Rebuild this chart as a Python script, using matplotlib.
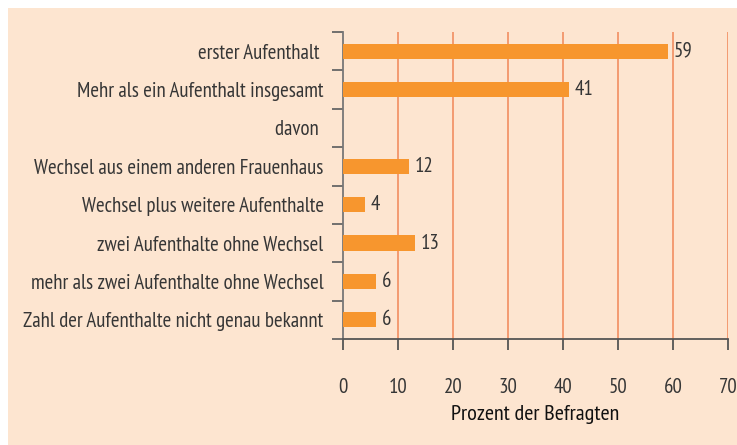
import matplotlib.pyplot as plt
import numpy as np
from matplotlib import font_manager
from matplotlib.patches import Rectangle

# pick a condensed face if one is installed
installed = set(f.name for f in font_manager.fontManager.ttflist)
wanted = ['Liberation Sans Narrow', 'PT Sans Narrow', 'Roboto Condensed',
          'Open Sans Condensed', 'Archivo Narrow', 'Fira Sans Condensed']
face = [f for f in wanted if f in installed][:1]
plt.rcParams['font.family'] = face + ['DejaVu Sans']

categories = ['erster Aufenthalt ', 'Mehr als ein Aufenthalt insgesamt', 'davon ',
              'Wechsel aus einem anderen Frauenhaus', 'Wechsel plus weitere Aufenthalte',
              'zwei Aufenthalte ohne Wechsel', 'mehr als zwei Aufenthalte ohne Wechsel',
              'Zahl der Aufenthalte nicht genau bekannt']
values = [59, 41, None, 12, 4, 13, 6, 6]
xticks = [0, 10, 20, 30, 40, 50, 60, 70]

bg = '#fde5d0'
bar_col = '#f7962e'
grid_col = '#f3956a'
txt = '#363636'

fig = plt.figure(figsize=(7.37, 4.45), dpi=100, facecolor='white')
fig.add_artist(Rectangle((8/737, 0), 1, 1 - 8/445, transform=fig.transFigure,
                         facecolor=bg, edgecolor='none', zorder=-10))
ax = fig.add_axes([343/737, 1 - 339/445, 385/737, 307/445])
ax.set_facecolor(bg)

y = np.arange(len(categories))
for i, v in enumerate(values):
    if v is None:
        continue
    ax.barh(y[i], v, height=0.4, color=bar_col, zorder=3)
    ax.text(v + 1.1, y[i], str(v), va='center', ha='left', fontsize=15, color=txt)

ax.set_xlim(0, 70)
ax.set_ylim(len(categories) - 0.5, -0.5)
ax.set_xticks(xticks)
ax.set_xticklabels([str(t) for t in xticks], fontsize=15, color=txt)
for t in xticks[1:]:
    ax.axvline(t, color=grid_col, lw=1.3, zorder=1)

ax.set_yticks(y)
ax.set_yticklabels(categories, fontsize=15, color=txt)
ax.set_yticks(np.arange(-0.5, len(categories), 1), minor=True)
ax.tick_params(axis='y', which='major', length=0, pad=14)
ax.tick_params(axis='y', which='minor', length=8, color='#666666', width=1.3)
ax.tick_params(axis='x', length=8, color='#555555', width=1.3, pad=20)

for s in ['top', 'right']:
    ax.spines[s].set_visible(False)
ax.spines['left'].set_color('#777777')
ax.spines['left'].set_linewidth(1.3)
ax.spines['bottom'].set_color('#555555')
ax.spines['bottom'].set_linewidth(1.3)

ax.set_xlabel('Prozent der Befragten', fontsize=16, color='#111111', labelpad=6)

fig.savefig('out.png', dpi=100, facecolor='white')
